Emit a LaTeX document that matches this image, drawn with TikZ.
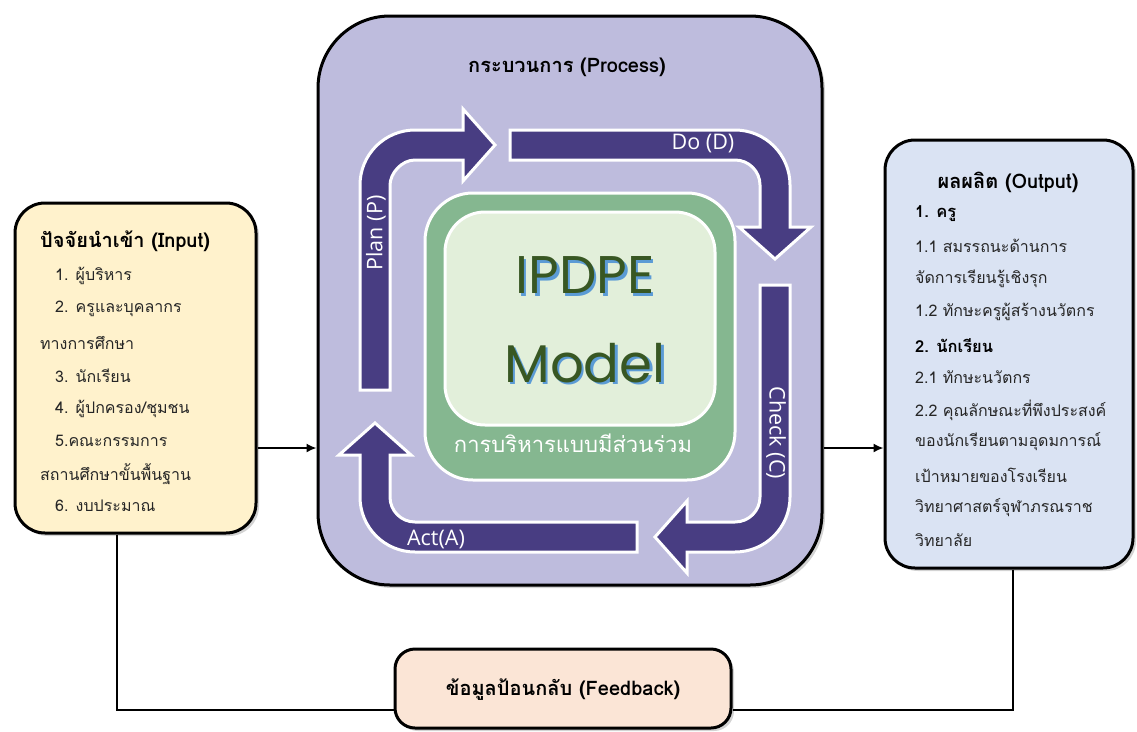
\documentclass[tikz,border=0pt]{standalone}
\usepackage{fontspec}
\usetikzlibrary{shadows,arrows.meta,calc}
\newfontfamily\thai[Script=Thai]{Loma}
\newfontfamily\lat{Open Sans}
\newfontfamily\geo{Poppins}
\definecolor{procfill}{HTML}{BEBCDD}
\definecolor{arrowfill}{HTML}{483D82}
\definecolor{greenfill}{HTML}{85B790}
\definecolor{lightgreen}{HTML}{E2EFDA}
\definecolor{infill}{HTML}{FFF2CC}
\definecolor{outfill}{HTML}{DAE3F3}
\definecolor{fbfill}{HTML}{FBE5D6}
\definecolor{darkgreen}{HTML}{385723}
\definecolor{shadowblue}{HTML}{5B9BD5}
\tikzset{
  box/.style={draw=black, line width=3pt, drop shadow={shadow xshift=3pt, shadow yshift=-3pt, opacity=0.35}},
  cyclearrow/.style={fill=arrowfill, draw=white, line width=3pt, line join=miter},
  thaitxt/.style={font=\thai\fontsize{16}{18}\selectfont, text=black!85, inner sep=0pt, anchor=west},
  itembold/.style={font=\thai\bfseries\fontsize{16.5}{18}\selectfont, text=black, inner sep=0pt, anchor=west},
  thaibold/.style={font=\thai\bfseries\fontsize{20}{22}\selectfont, text=black, inner sep=0pt},
  lbl/.style={font=\lat\fontsize{21.5}{23}\selectfont, text=white, inner sep=0pt},
  conn/.style={line width=1.6pt, draw=black},
  big/.style={font=\geo\fontsize{53}{55}\selectfont, inner sep=0pt}
}
\begin{document}
\begin{tikzpicture}[x=1pt,y=-1pt]
\useasboundingbox (0,0) rectangle (1137,731);

% boxes
\node[box, fill=infill, minimum width=241pt, minimum height=330pt, rounded corners=30pt] (input) at (135.5,368) {};
\node[box, fill=procfill, minimum width=504pt, minimum height=569pt, rounded corners=72pt] (process) at (570,300.5) {};
\node[box, fill=outfill, minimum width=248pt, minimum height=428pt, rounded corners=30pt] (output) at (1009,354) {};
\node[box, fill=fbfill, minimum width=336pt, minimum height=79pt, rounded corners=20pt] (feedback) at (563,688.5) {};

% center boxes
\node[draw=white, line width=3pt, fill=greenfill, minimum width=310pt, minimum height=287pt, rounded corners=48pt] (green) at (580,336.5) {};
\node[draw=white, line width=3pt, fill=lightgreen, minimum width=270pt, minimum height=213pt, rounded corners=40pt] (light) at (580,318.5) {};

% cycle arrows
\draw[cyclearrow] (360,390) -- (360,185) .. controls (360,154.6) and (384.6,130) .. (415,130) -- (463,130) -- (463,109) -- (495,145) -- (463,181) -- (463,160) -- (415,160) .. controls (401.2,160) and (390,173.8) .. (390,185) -- (390,390) -- cycle;
\draw[cyclearrow] (510,130) -- (735,130) .. controls (765.4,130) and (790,154.6) .. (790,185) -- (790,227) -- (811,227) -- (775,259) -- (739,227) -- (760,227) -- (760,185) .. controls (760,171.2) and (748.8,160) .. (735,160) -- (510,160) -- cycle;
\draw[cyclearrow] (760,285) -- (790,285) -- (790,497) .. controls (790,527.4) and (765.4,552) .. (735,552) -- (687,552) -- (687,573) -- (655,537) -- (687,501) -- (687,522) -- (735,522) .. controls (748.8,522) and (760,510.8) .. (760,497) -- cycle;
\draw[cyclearrow] (637,552) -- (415,552) .. controls (384.6,552) and (360,527.4) .. (360,497) -- (360,455) -- (339,455) -- (375,423) -- (411,455) -- (390,455) -- (390,497) .. controls (390,510.8) and (401.2,522) .. (415,522) -- (637,522) -- cycle;

% arrow labels
\node[lbl, rotate=90] (plan) at (376,233) {Plan (P)};
\node[lbl] (do) at (703,144) {Do (D)};
\node[lbl, rotate=-90] (check) at (776,433) {Check (C)};
\node[lbl] (act) at (436,539) {Act(A)};

% center text (blue shadow behind dark green text)
\node[big, text=shadowblue] (ipdpes) at (587.5,277.5) {IPDPE};
\node[big, text=darkgreen] (ipdpe) at (585,275) {IPDPE};
\node[big, text=shadowblue] (models) at (587.5,365.5) {Model};
\node[big, text=darkgreen] (model) at (585,363) {Model};
\node[font=\thai\fontsize{22}{24}\selectfont, text=white, inner sep=0pt] (part) at (573,443) {การบริหารแบบมีส่วนร่วม};

% titles
\node[thaibold] (ptitle) at (567,67) {กระบวนการ (Process)};
\node[thaibold, anchor=west] (ititle) at (40,241) {ปัจจัยนำเข้า (Input)};
\node[thaibold] (otitle) at (1008,182) {ผลผลิต (Output)};
\node[thaibold] (ftitle) at (563,690) {ข้อมูลป้อนกลับ (Feedback)};

% input items
\node[thaitxt] (i1) at (55,276) {1. ผู้บริหาร};
\node[thaitxt] (i2) at (55,309) {2. ครูและบุคลากร};
\node[thaitxt] (i2b) at (40,343) {ทางการศึกษา};
\node[thaitxt] (i3) at (55,376) {3. นักเรียน};
\node[thaitxt] (i4) at (55,409) {4. ผู้ปกครอง/ชุมชน};
\node[thaitxt] (i5) at (55,441) {5.คณะกรรมการ};
\node[thaitxt] (i5b) at (40,474) {สถานศึกษาขั้นพื้นฐาน};
\node[thaitxt] (i6) at (55,506) {6. งบประมาณ};

% output items
\node[itembold] (o1) at (915,214) {1. ครู};
\node[thaitxt] (o11) at (915,246) {1.1 สมรรถนะด้านการ};
\node[thaitxt] (o11b) at (915,279) {จัดการเรียนรู้เชิงรุก};
\node[thaitxt] (o12) at (915,312) {1.2 ทักษะครูผู้สร้างนวัตกร};
\node[itembold] (o2) at (915,346) {2. นักเรียน};
\node[thaitxt] (o21) at (915,377) {2.1 ทักษะนวัตกร};
\node[thaitxt] (o22) at (915,410) {2.2 คุณลักษณะที่พึงประสงค์};
\node[thaitxt] (o22b) at (915,442) {ของนักเรียนตามอุดมการณ์};
\node[thaitxt] (o22c) at (915,475) {เป้าหมายของโรงเรียน};
\node[thaitxt] (o22d) at (915,508) {วิทยาศาสตร์จุฬาภรณราช};
\node[thaitxt] (o22e) at (915,540) {วิทยาลัย};

% connectors
\coordinate (ay) at (0,448);
\coordinate (fy) at (0,710);
\coordinate (lx) at (117,0);
\coordinate (rx) at (1013,0);
\draw[conn, -{Latex[length=10pt,width=9pt]}] (input.east |- ay) -- (process.west |- ay);
\draw[conn, -{Latex[length=10pt,width=9pt]}] (process.east |- ay) -- (output.west |- ay);
\draw[conn] (input.south -| lx) -- (lx |- fy) -- (feedback.west |- fy);
\draw[conn] (output.south -| rx) -- (rx |- fy) -- (feedback.east |- fy);
\end{tikzpicture}
\end{document}
